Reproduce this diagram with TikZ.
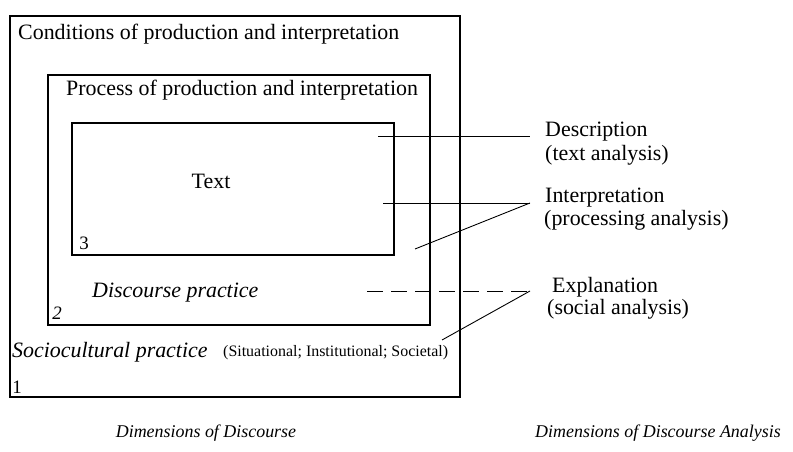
\documentclass[tikz,border=0pt]{standalone}
\usepackage{fontspec}
\setmainfont{Liberation Serif}
\usetikzlibrary{positioning}

\begin{document}
\begin{tikzpicture}[x=1bp,y=-1bp,
  frame/.style={draw,line width=2bp},
  link/.style={draw,line width=0.9bp},
  dashlink/.style={link,dash pattern=on 16bp off 8bp},
  big/.style={inner sep=0pt,anchor=west,font=\fontsize{22}{24}\selectfont},
  bigit/.style={big,font=\fontsize{22}{24}\selectfont\itshape},
  small/.style={inner sep=0pt,anchor=west,font=\fontsize{16}{18}\selectfont},
  num/.style={inner sep=0pt,font=\fontsize{19}{21}\selectfont},
  caption/.style={inner sep=0pt,font=\fontsize{18}{20}\selectfont\itshape}]
\useasboundingbox (0,0) rectangle (793,452);
\draw[frame] (10,16) rectangle (460,397);
\draw[frame] (48,75) rectangle (430,325);
\draw[frame] (72,123) rectangle (394,255);
\node[big] (cond) at (18,34) {Conditions of production and interpretation};
\node[big] (proc) at (66,90) {Process of production and interpretation};
\node[big,anchor=center] (text) at (211,181) {Text};
\node[num] (n3) at (84,243) {3};
\node[bigit] (disc) at (92,293) {Discourse practice};
\node[num,font=\fontsize{19}{21}\selectfont\itshape] (n2) at (57,313) {2};
\node[bigit] (socio) at (12,352) {Sociocultural practice};
\node[small] (sit) at (223,353) {(Situational; Institutional; Societal)};
\node[num] (n1) at (17,387) {1};
\node[big] (desc) at (545,132) {Description};
\node[big] (descsub) at (545,155) {(text analysis)};
\node[big] (interp) at (545,198) {Interpretation};
\node[big] (interpsub) at (544,220) {(processing analysis)};
\node[big] (expl) at (552,287) {Explanation};
\node[big] (explsub) at (547,309) {(social analysis)};
\node[caption] (dimL) at (206,433) {Dimensions of Discourse};
\node[caption] (dimR) at (658,433) {Dimensions of Discourse Analysis};
\coordinate (dA) at (378,136);
\coordinate (dJ) at (530,136);
\coordinate (iA) at (383,203);
\coordinate (iB) at (415,249);
\coordinate (iJ) at (530,203);
\coordinate (eA) at (367,291);
\coordinate (eB) at (442,340);
\coordinate (eJ) at (530,291);
\draw[link] (dA) -- (dJ);
\draw[link] (iA) -- (iJ);
\draw[link] (iB) -- (iJ);
\draw[dashlink] (eA) -- (eJ);
\draw[link] (eB) -- (eJ);
\end{tikzpicture}
\end{document}
